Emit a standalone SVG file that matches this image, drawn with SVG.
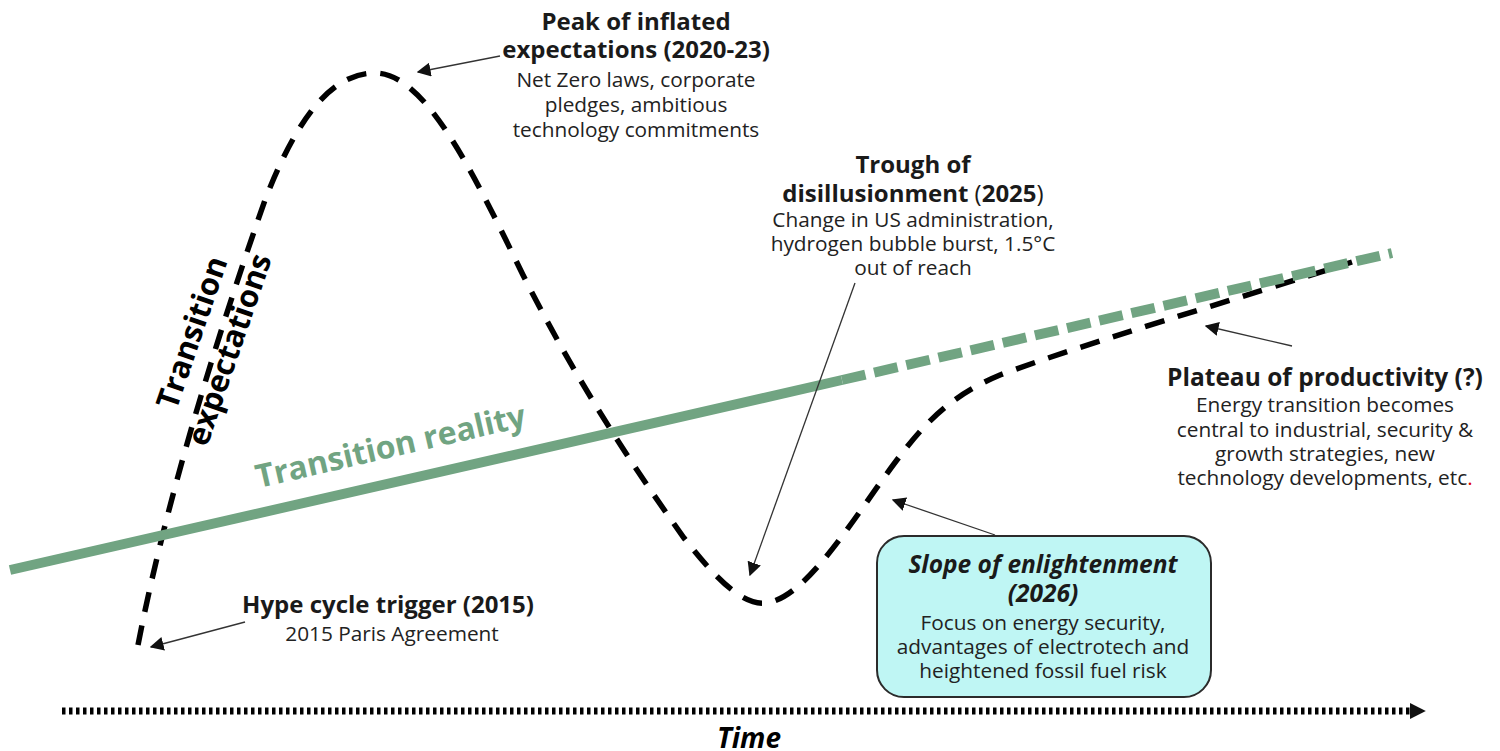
<svg xmlns="http://www.w3.org/2000/svg" width="1500" height="751" viewBox="0 0 1500 751">
<style>
text{font-family:"Open Sans","Liberation Sans",sans-serif;fill:#1a1a1a}
.t{font-weight:700;font-size:24px;text-anchor:middle}
.b{font-size:20.8px;text-anchor:middle;fill:#222}
.ptr{stroke:#333;stroke-width:1.3;fill:none;marker-end:url(#ah)}
</style>
<defs>
<marker id="ah" viewBox="0 0 10 10" refX="9" refY="5" markerWidth="14" markerHeight="14" markerUnits="userSpaceOnUse" orient="auto">
<path d="M0,0 L10,5 L0,10 z" fill="#111"/>
</marker>
<marker id="tah" viewBox="0 0 10 10" refX="2" refY="5" markerWidth="16" markerHeight="16" markerUnits="userSpaceOnUse" orient="auto">
<path d="M0,0 L10,5 L0,10 z" fill="#111"/>
</marker>
</defs>
<g id="connectors">
<path id="expectations-curve" d="M138,645 C170,480 230,300 265,200 C300,110 335,73 375,73 C425,73 472,170 523,275 C577,382 632,465 684,538 C722,587 746,605 765,603 C800,600 840,540 880,483 C915,435 940,400 1000,375 C1080,345 1240,298 1352,262" fill="none" stroke="#000" stroke-width="5.5" stroke-dasharray="20 14"/>
<line id="reality-solid" x1="10" y1="570" x2="842" y2="380" stroke="#71a482" stroke-width="10"/>
<line id="reality-dashed" x1="842" y1="380" x2="1392" y2="253" stroke="#71a482" stroke-width="10" stroke-dasharray="24 9"/>
<line id="time-axis" x1="62" y1="711" x2="1413" y2="711" stroke="#000" stroke-width="7" stroke-dasharray="3.5 3.5" marker-end="url(#tah)"/>
<line class="ptr" x1="500" y1="56" x2="418" y2="72"/>
<line class="ptr" x1="855" y1="283" x2="750" y2="575"/>
<line class="ptr" x1="1292" y1="346" x2="1206" y2="326"/>
<line class="ptr" x1="995" y1="535" x2="893" y2="500"/>
<line class="ptr" x1="245" y1="622" x2="151" y2="647"/>
</g>
<g id="label-expectations" transform="rotate(-71 202 336)">
<text x="202" y="336" style="font-weight:700;font-size:31px;text-anchor:middle;fill:#000">Transition</text>
<text x="198" y="377" style="font-weight:700;font-size:31px;text-anchor:middle;fill:#000">expectations</text>
</g>
<g id="label-reality">
<text x="393" y="457" transform="rotate(-13 393 457)" style="font-weight:700;font-size:32px;text-anchor:middle;fill:#71a482">Transition reality</text>
</g>
<g id="peak">
<text class="t" x="636" y="30">Peak of inflated</text>
<text class="t" x="636" y="58">expectations (2020-23)</text>
<text class="b" x="636" y="87">Net Zero laws, corporate</text>
<text class="b" x="636" y="112">pledges, ambitious</text>
<text class="b" x="636" y="137">technology commitments</text>
</g>
<g id="trough">
<text class="t" x="913" y="173">Trough of</text>
<text class="t" x="913" y="202">disillusionment <tspan style="font-weight:400">(</tspan>2025<tspan style="font-weight:400">)</tspan></text>
<text class="b" x="913" y="227">Change in US administration,</text>
<text class="b" x="913" y="251">hydrogen bubble burst, 1.5°C</text>
<text class="b" x="913" y="275">out of reach</text>
</g>
<g id="plateau">
<text class="t" x="1325" y="386" style="font-size:24.5px">Plateau of productivity (?)</text>
<text class="b" x="1325" y="412">Energy transition becomes</text>
<text class="b" x="1325" y="437">central to industrial, security &amp;</text>
<text class="b" x="1325" y="461">growth strategies, new</text>
<text class="b" x="1325" y="485">technology developments, etc<tspan style="fill:#e00000">.</tspan></text>
</g>
<g id="slope">
<rect x="877" y="536" width="334" height="161" rx="27" fill="#bff6f4" stroke="#2b2b2b" stroke-width="2"/>
<text class="t" x="1043" y="573" style="font-style:italic;font-size:24.5px">Slope of enlightenment</text>
<text class="t" x="1043" y="602" style="font-style:italic;font-size:24.5px">(2026)</text>
<text class="b" x="1043" y="630">Focus on energy security,</text>
<text class="b" x="1043" y="654">advantages of electrotech and</text>
<text class="b" x="1043" y="678">heightened fossil fuel risk</text>
</g>
<g id="trigger">
<text class="t" x="388" y="613">Hype cycle trigger (2015)</text>
<text class="b" x="392" y="641">2015 Paris Agreement</text>
</g>
<g id="time">
<text x="749" y="748" style="font-weight:700;font-style:italic;font-size:28px;text-anchor:middle;fill:#000">Time</text>
</g>
</svg>
